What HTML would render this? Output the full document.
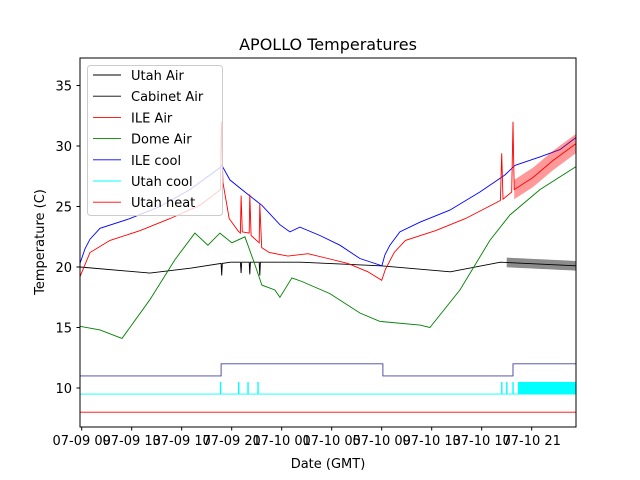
<!DOCTYPE html>
<html><head><meta charset="utf-8"><style>
body{margin:0;background:#fff}
svg{display:block;font-family:"DejaVu Sans","Liberation Sans",sans-serif}
</style></head><body>
<svg id="chart" width="640" height="480">
<rect x="0" y="0" width="640" height="480" fill="#fff"/>
<g id="plot"></g>
<rect x="80" y="58" width="496" height="369" fill="none" stroke="#000" stroke-width="1"/>
<g id="axes"></g>
<text x="328" y="50" text-anchor="middle" font-size="16">APOLLO Temperatures</text>
<text x="328" y="468" text-anchor="middle" font-size="13">Date (GMT)</text>
<text transform="translate(44,242) rotate(-90)" text-anchor="middle" font-size="13">Temperature (C)</text>
<g id="legend"></g>
</svg>
<script>
// hours since 07-09 09:00
const xTickHours=[0,4,8,12,16,20,24,28,32,36];
const xTickLabels=["07-09 09","07-09 13","07-09 17","07-09 21","07-10 01","07-10 05","07-10 09","07-10 13","07-10 17","07-10 21"];
const yTicks=[10,15,20,25,30,35];
const blueT=[-0.14,0.26,0.66,1.46,3.86,6.26,8.66,11.06,11.22,11.86,13.06,14.42,15.86,16.66,17.46,19.06,20.66,22.26,24.02,24.26,24.66,25.46,27.06,29.46,31.86,33.86,34.66,36.66,38.26,39.54];
const blueV=[20.3,21.5,22.3,23.2,24,25,26.4,28.2,28.4,27.2,26.2,25.1,23.5,22.9,23.3,22.6,21.8,20.7,20.1,21,21.8,22.9,23.7,24.7,26.2,27.6,28.4,29.1,29.7,30.7];
const redT=[-0.14,0.66,2.26,4.66,7.06,9.46,11.1,11.18,11.3,11.8,12.5,12.7,12.75,12.85,13.4,13.45,13.55,14.2,14.25,14.4,15,16.5,18.1,19.7,21.3,22.9,24.0,24.3,25.0,25.9,28.3,30.7,33.5,33.6,33.7,34.4,34.5,34.6,36.1,37.7,39.54];
const redV=[19.2,21.2,22.2,23,24,25.1,26.4,32,27,24,23,22.8,25.9,22.9,22.8,26,22.6,22,25.2,21.6,21.2,20.9,21.1,20.7,20.3,19.6,18.9,19.8,21.2,22.2,23,24,25.5,29.4,25.6,26.2,32,26.4,27.4,28.8,30.2];
const greenT=[-0.14,1.46,3.22,5.46,7.46,9.06,10.1,11.06,12.02,13.06,13.86,14.42,15.46,15.86,16.82,17.62,19.86,22.26,23.86,27.06,27.86,30.26,32.66,34.26,36.66,39.54];
const greenV=[15.1,14.8,14.1,17.3,20.6,22.8,21.8,22.8,22,22.5,20.2,18.5,18.1,17.5,19.1,18.8,17.8,16.2,15.5,15.2,15,18.1,22.2,24.3,26.4,28.3];
const blackT=[-0.14,5.46,8.7,11.15,11.2,11.25,11.9,12.7,12.75,12.8,13.4,13.45,13.5,14.2,14.25,14.3,17.5,23.9,29.5,33.5,39.54];
const blackV=[20,19.5,19.9,20.3,19.3,20.3,20.4,20.4,19.5,20.4,20.4,19.4,20.4,20.4,19.3,20.4,20.4,20.1,19.6,20.4,20.1];
const iceCoolT=[-0.14,11.15,11.15,24.1,24.1,34.5,34.5,39.54];
const iceCoolV=[11,11,12,12,11,11,12,12];
const utahHeatV=8;
const utahCoolBase=9.5, utahCoolOn=10.5;
const utahCoolSpikes=[11.1,12.55,13.3,14.1,33.6,34.0,34.5];
const utahCoolDense=[34.9,39.54];
const redNoise=[34.6,39.54,0.8];
const blackNoise=[34.0,39.54,0.4];

const NS="http://www.w3.org/2000/svg";
const X=t=>81.7+12.5*t;
const Y=v=>388-(v-10)*12.1;
const plot=document.getElementById('plot'), axes=document.getElementById('axes'), legend=document.getElementById('legend');
function mk(tag,attrs,parent){const e=document.createElementNS(NS,tag);for(const k in attrs)e.setAttribute(k,attrs[k]);parent.appendChild(e);return e;}
function line(T,V,color,name){
  const d=T.map((t,i)=>(i?'L':'M')+X(t).toFixed(1)+','+Y(V[i]).toFixed(1)).join('');
  const p=mk('path',{d:d,fill:'none',stroke:color,'stroke-width':0.9},plot);
  
  
}
function band(B,T,V,color,op,name){
  const up=[],dn=[];
  const interp=t=>{for(let i=0;i<T.length-1;i++){if(t>=T[i]&&t<=T[i+1]){return V[i]+(V[i+1]-V[i])*(t-T[i])/(T[i+1]-T[i]);}}return V[V.length-1];};
  for(let k=0;k<=10;k++){const t=B[0]+(B[1]-B[0])*k/10;up.push(X(t)+','+Y(interp(t)+B[2]));dn.unshift(X(t)+','+Y(interp(t)-B[2]));}
  const p=mk('polygon',{points:up.concat(dn).join(' '),fill:color,'fill-opacity':op},plot);
  
  
}
line(blackT,blackV,'#000','utah-air-line');
band(blackNoise,blackT,blackV,'#000',0.45,'utah-air-noise');
line(greenT,greenV,'#008000','dome-air-line');
line(blueT,blueV,'#0000ff','ile-cool-line');
line(redT,redV,'#ff0000','ile-air-line');
band(redNoise,redT,redV,'#ff0000',0.4,'ile-air-noise');
line(iceCoolT,iceCoolV,'#4040a0','ile-cool-state-line');
line([-0.14,39.54],[utahCoolBase,utahCoolBase],'#00ffff','utah-cool-line');
utahCoolSpikes.forEach(t=>{
  const r=mk('rect',{x:X(t)-0.6,y:Y(utahCoolOn),width:1.4,height:Y(utahCoolBase)-Y(utahCoolOn),fill:'#00ffff'},plot);
  
  
});
{const r=mk('rect',{x:X(utahCoolDense[0]),y:Y(utahCoolOn),width:X(utahCoolDense[1])-X(utahCoolDense[0]),height:Y(utahCoolBase)-Y(utahCoolOn),fill:'#00ffff'},plot);

}
line([-0.14,39.54],[utahHeatV,utahHeatV],'#ff0000','utah-heat-line');

yTicks.forEach(v=>{
  const l=mk('line',{x1:76.5,x2:80,y1:Y(v),y2:Y(v),stroke:'#000'},axes);
  
  
  const t=mk('text',{x:72,y:Y(v)+5,'text-anchor':'end','font-size':13},axes);t.textContent=v;
  
  
});
xTickHours.forEach((h,i)=>{
  const l=mk('line',{x1:X(h),x2:X(h),y1:427,y2:430.5,stroke:'#000'},axes);
  
  
  const t=mk('text',{x:X(h),y:445,'text-anchor':'middle','font-size':13},axes);t.textContent=xTickLabels[i];
  
  
});
const legNames=["Utah Air","Cabinet Air","ILE Air","Dome Air","ILE cool","Utah cool","Utah heat"];
const legColors=["#000","#000","#ff0000","#008000","#0000ff","#00ffff","#ff0000"];
{const f=mk('rect',{x:87.5,y:65.5,width:135,height:150,rx:3,fill:'#fff','fill-opacity':0.8,stroke:'#ccc'},legend);

}
legNames.forEach((n,i)=>{
  const y=75+i*21.2;
  const l=mk('line',{x1:93,x2:121,y1:y,y2:y,stroke:legColors[i],'stroke-width':0.9},legend);
  
  
  const t=mk('text',{x:131,y:y+5,'font-size':13},legend);t.textContent=n;
  
  
});
</script>
</body></html>
